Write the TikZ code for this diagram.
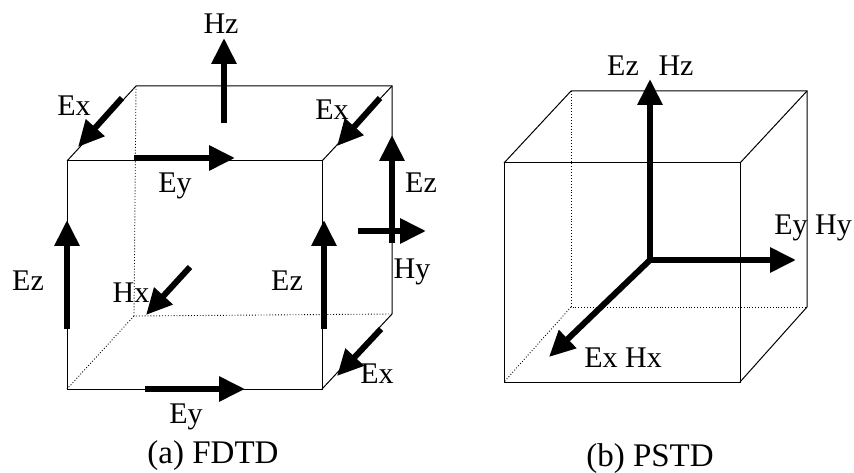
\documentclass[tikz,border=0pt]{standalone}
\usepackage{fontspec}
\setmainfont{Liberation Serif}
\usetikzlibrary{arrows.meta}
\tikzset{
    edge/.style={draw=black, line width=1pt},
    hidden/.style={draw=black, line width=0.9pt, dotted},
    field/.style={-{Triangle[length=26pt, width=24pt]}, line width=6pt, black},
    axis/.style={field},
    lab/.style={anchor=base, inner sep=0pt, font=\fontsize{30}{36}\selectfont},
    caption/.style={anchor=base, inner sep=0pt, font=\fontsize{33}{40}\selectfont}
}
\begin{document}
\begin{tikzpicture}[x=1pt, y=-1pt]
        \useasboundingbox (0,0) rectangle (854,473);

        % Cube FDTD
        \coordinate (FTL) at (67,161);
        \coordinate (FTR) at (322,161);
        \coordinate (FBR) at (322,389);
        \coordinate (FBL) at (67,389);
        \coordinate (BTL) at (136,86);
        \coordinate (BTR) at (392,86);
        \coordinate (BBR) at (392,314);
        \coordinate (BBL) at (134,316);
        \draw[edge] (FTL) -- (FTR) -- (FBR) -- (FBL) -- cycle;
        \draw[edge] (FTL) -- (BTL) -- (BTR) -- (BBR) -- (FBR);
        \draw[edge] (FTR) -- (BTR);
        \draw[hidden] (BTL) -- (BBL) -- (BBR);
        \draw[hidden] (BBL) -- (FBL);

        % Field arrows FDTD
        \coordinate (HzTail) at (224,123);
        \coordinate (HzTip) at (224,38);
        \coordinate (ExATail) at (122,98);
        \coordinate (ExATip) at (78,147);
        \coordinate (ExBTail) at (380,98);
        \coordinate (ExBTip) at (337,146);
        \coordinate (ExCTail) at (381,329);
        \coordinate (ExCTip) at (337,376);
        \coordinate (EyATail) at (134,158);
        \coordinate (EyATip) at (235,158);
        \coordinate (EyBTail) at (145,389);
        \coordinate (EyBTip) at (245,389);
        \coordinate (EzATail) at (67,329);
        \coordinate (EzATip) at (67,220);
        \coordinate (EzBTail) at (324,329);
        \coordinate (EzBTip) at (324,220);
        \coordinate (EzCTail) at (392,243);
        \coordinate (EzCTip) at (392,135);
        \coordinate (HyTail) at (358,231);
        \coordinate (HyTip) at (426,231);
        \coordinate (HxTail) at (190,267);
        \coordinate (HxTip) at (146,315);
        \foreach \from/\to in {HzTail/HzTip, ExATail/ExATip, ExBTail/ExBTip, ExCTail/ExCTip,
            EyATail/EyATip, EyBTail/EyBTip, EzATail/EzATip, EzBTail/EzBTip, EzCTail/EzCTip,
            HyTail/HyTip, HxTail/HxTip}
            \draw[field] (\from) -- (\to);

        % Labels FDTD
        \node[lab] (LHz) at (221,34) {Hz};
        \node[lab] (LExA) at (74,116) {Ex};
        \node[lab] (LExB) at (332,120) {Ex};
        \node[lab] (LExC) at (377,383) {Ex};
        \node[lab] (LEyA) at (175,193) {Ey};
        \node[lab] (LEyB) at (186,423) {Ey};
        \node[lab] (LEzA) at (28,290) {Ez};
        \node[lab] (LEzB) at (287,290) {Ez};
        \node[lab] (LEzC) at (421,193) {Ez};
        \node[lab] (LHx) at (131,302) {Hx};
        \node[lab] (LHy) at (412,278) {Hy};
        \node[caption] (CapA) at (213,463) {(a) FDTD};

        % Cube PSTD
        \coordinate (PFTL) at (504,163);
        \coordinate (PFTR) at (740,163);
        \coordinate (PFBR) at (740,382);
        \coordinate (PFBL) at (504,382);
        \coordinate (PBTL) at (571,91);
        \coordinate (PBTR) at (807,91);
        \coordinate (PBBR) at (807,307);
        \coordinate (PBBL) at (571,307);
        \draw[edge] (PFTL) -- (PFTR) -- (PFBR) -- (PFBL) -- cycle;
        \draw[edge] (PFTL) -- (PBTL) -- (PBTR) -- (PBBR) -- (PFBR);
        \draw[edge] (PFTR) -- (PBTR);
        \draw[hidden] (PBTL) -- (PBBL) -- (PBBR);
        \draw[hidden] (PBBL) -- (PFBL);

        % Field arrows PSTD
        \coordinate (Origin) at (650,260);
        \coordinate (ZTip) at (650,79);
        \coordinate (YTip) at (796,260);
        \coordinate (XTip) at (549,357);
        \draw[axis] (Origin) -- (ZTip);
        \draw[axis] (Origin) -- (YTip);
        \draw[axis] (Origin) -- (XTip);

        % Labels PSTD
        \node[lab] (LEz) at (623,76) {Ez};
        \node[lab] (LHzP) at (676,76) {Hz};
        \node[lab] (LEyHy) at (813,234) {Ey Hy};
        \node[lab] (LExHx) at (623,367) {Ex Hx};
        \node[caption] (CapB) at (650,466) {(b) PSTD};
\end{tikzpicture}
\end{document}
